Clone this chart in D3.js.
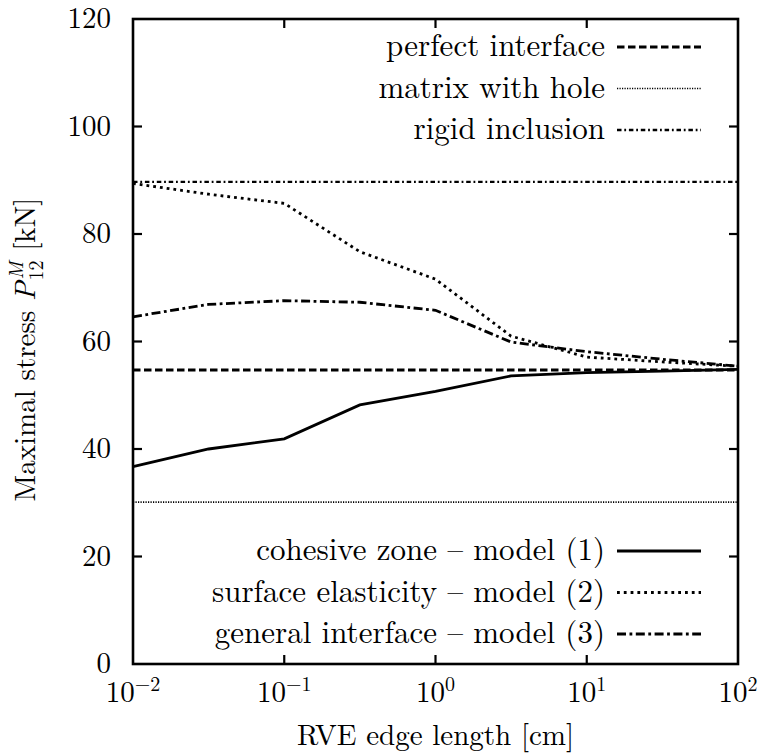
<!DOCTYPE html>
<html>
<head>
<meta charset="utf-8">
<script src="https://cdn.jsdelivr.net/npm/d3@7"></script>
<style>
  html, body { margin: 0; padding: 0; background: #fff; }
</style>
</head>
<body>
<svg id="chart" width="760" height="756" font-family="Latin Modern Roman, CMU Serif, Liberation Serif, serif"></svg>
<script>
// RVE edge lengths [cm] at which the models were evaluated
const edgeLengths = [0.01, 0.0316, 0.1, 0.316, 1, 3.16, 10, 31.6, 100];

// Maximal stress P12 [kN] for each interface model
const cohesiveZone = [36.7, 40.0, 41.9, 48.2, 50.7, 53.6, 54.2, 54.5, 54.8];
const surfaceElasticity = [89.4, 87.4, 85.7, 76.7, 71.6, 61.0, 57.1, 56.2, 55.4];
const generalInterface = [64.6, 66.9, 67.6, 67.3, 65.8, 59.9, 58.1, 56.7, 55.4];

// Reference limits (independent of RVE size)
const perfectInterface = 54.7;
const matrixWithHole = 30.1;
const rigidInclusion = 89.7;

// Axis ticks
const xTickExponents = [-2, -1, 0, 1, 2];
const yTicks = [0, 20, 40, 60, 80, 100, 120];

const svg = d3.select("#chart");
const plotLeft = 133, plotRight = 738, plotTop = 19, plotBottom = 664;

const x = d3.scaleLog().domain([0.01, 100]).range([plotLeft, plotRight]);
const y = d3.scaleLinear().domain([0, 120]).range([plotBottom, plotTop]);

const fontSize = 29;
const keySize = 31;
const smallSize = 20;

// Plot frame
svg.append("rect")
  .attr("x", plotLeft).attr("y", plotTop)
  .attr("width", plotRight - plotLeft).attr("height", plotBottom - plotTop)
  .attr("fill", "none").attr("stroke", "#000").attr("stroke-width", 2.6);

// Inward ticks on all four sides
const tickLen = 9;
const ticks = svg.append("g").attr("stroke", "#000").attr("stroke-width", 2.2);
yTicks.slice(1, -1).forEach(v => {
  ticks.append("line").attr("x1", plotLeft).attr("x2", plotLeft + tickLen).attr("y1", y(v)).attr("y2", y(v));
  ticks.append("line").attr("x1", plotRight).attr("x2", plotRight - tickLen).attr("y1", y(v)).attr("y2", y(v));
});
xTickExponents.slice(1, -1).forEach(e => {
  const xv = x(Math.pow(10, e));
  ticks.append("line").attr("x1", xv).attr("x2", xv).attr("y1", plotBottom).attr("y2", plotBottom - tickLen);
  ticks.append("line").attr("x1", xv).attr("x2", xv).attr("y1", plotTop).attr("y2", plotTop + tickLen);
});

// Y tick labels
svg.append("g").selectAll("text").data(yTicks).join("text")
  .attr("x", plotLeft - 22).attr("y", d => y(d))
  .attr("dy", "0.32em").attr("text-anchor", "end")
  .attr("font-size", fontSize)
  .text(d => d);

// X tick labels: 10 with superscript exponent
const xl = svg.append("g").selectAll("text").data(xTickExponents).join("text")
  .attr("x", d => x(Math.pow(10, d))).attr("y", plotBottom + 38)
  .attr("text-anchor", "middle")
  .attr("font-size", fontSize);
xl.append("tspan").text("10");
xl.append("tspan").attr("dy", -11).attr("font-size", smallSize)
  .text(d => d < 0 ? "\u2212" + Math.abs(d) : String(d));

// Axis titles
svg.append("text")
  .attr("x", (plotLeft + plotRight) / 2).attr("y", 745)
  .attr("text-anchor", "middle").attr("font-size", fontSize)
  .text("RVE edge length [cm]");

const yt = svg.append("text")
  .attr("transform", `translate(35,${(plotTop + plotBottom) / 2 + 8}) rotate(-90)`)
  .attr("text-anchor", "middle").attr("font-size", fontSize);
yt.append("tspan").text("Maximal stress ");
yt.append("tspan").attr("font-style", "italic").text("P");
yt.append("tspan").attr("font-style", "italic").attr("font-size", smallSize).attr("dx", 2).attr("dy", -12).text("M");
yt.append("tspan").attr("font-size", smallSize).attr("dx", -19).attr("dy", 20).text("12");
yt.append("tspan").attr("dy", -8).text(" [kN]");

// Line styles
const styles = {
  cohesive: { w: 2.8, dash: null },
  surface: { w: 2.8, dash: "2.8,4" },
  general: { w: 2.8, dash: "9,3.5,2.8,3.5" },
  perfect: { w: 2.8, dash: "7.5,3.5" },
  hole: { w: 1.7, dash: "1.2,1.3" },
  rigid: { w: 2.4, dash: "4.5,2.8,1.8,2.8" }
};

const line = d3.line().x(d => x(d[0])).y(d => y(d[1]));

function drawSeries(vals, st) {
  svg.append("path")
    .datum(edgeLengths.map((e, i) => [e, vals[i]]))
    .attr("d", line)
    .attr("fill", "none").attr("stroke", "#000")
    .attr("stroke-width", st.w)
    .attr("stroke-dasharray", st.dash)
    .attr("stroke-linejoin", "miter");
}
function drawConst(v, st) {
  drawSeries(edgeLengths.map(() => v), st);
}

drawConst(perfectInterface, styles.perfect);
drawConst(matrixWithHole, styles.hole);
drawConst(rigidInclusion, styles.rigid);
drawSeries(cohesiveZone, styles.cohesive);
drawSeries(surfaceElasticity, styles.surface);
drawSeries(generalInterface, styles.general);

// Legends
const legendTop = [
  { label: "perfect interface", st: styles.perfect },
  { label: "matrix with hole", st: styles.hole },
  { label: "rigid inclusion", st: styles.rigid }
];
const legendBottom = [
  { label: "cohesive zone \u2013 model (1)", st: styles.cohesive },
  { label: "surface elasticity \u2013 model (2)", st: styles.surface },
  { label: "general interface \u2013 model (3)", st: styles.general }
];

function drawLegend(items, y0) {
  items.forEach((it, i) => {
    const yy = y0 + i * 41.5;
    svg.append("text")
      .attr("x", 605).attr("y", yy).attr("dy", "0.3em")
      .attr("text-anchor", "end").attr("font-size", keySize)
      .text(it.label);
    svg.append("line")
      .attr("x1", 617).attr("x2", 701).attr("y1", yy).attr("y2", yy)
      .attr("stroke", "#000").attr("stroke-width", it.st.w)
      .attr("stroke-dasharray", it.st.dash);
  });
}
drawLegend(legendTop, 47);
drawLegend(legendBottom, 551);
</script>
</body>
</html>
